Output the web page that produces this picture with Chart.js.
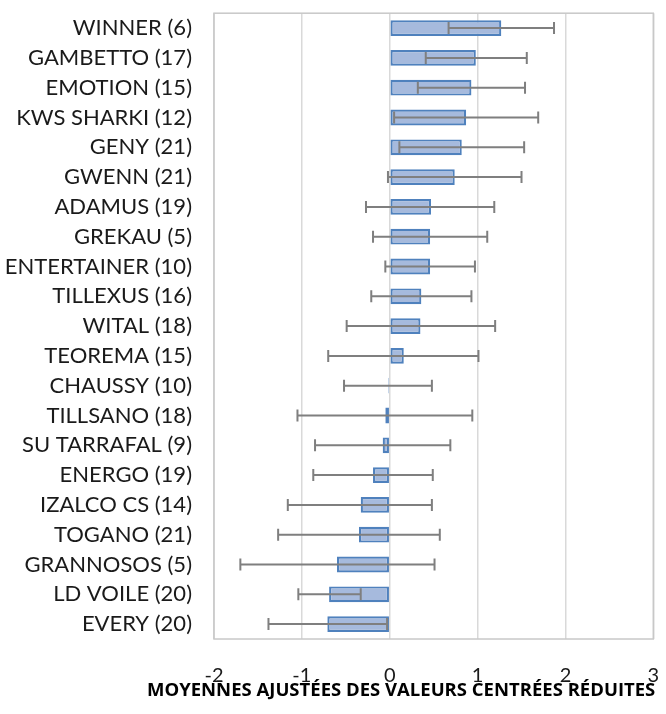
<!DOCTYPE html>
<html lang="fr">
<head>
<meta charset="utf-8">
<title>Moyennes ajustées</title>
<script src="https://cdn.jsdelivr.net/npm/chart.js@4/dist/chart.umd.min.js"></script>
<style>
  html, body { margin: 0; padding: 0; background: #fff; }
  #wrap { position: relative; width: 666px; height: 714px; }
</style>
</head>
<body>
<div id="wrap"><canvas id="meansChart"></canvas></div>
<script>
// ── DATA ──
const varieties = [
    'WINNER (6)', 'GAMBETTO (17)', 'EMOTION (15)', 'KWS SHARKI (12)', 'GENY (21)',
    'GWENN (21)', 'ADAMUS (19)', 'GREKAU (5)', 'ENTERTAINER (10)', 'TILLEXUS (16)',
    'WITAL (18)', 'TEOREMA (15)', 'CHAUSSY (10)', 'TILLSANO (18)', 'SU TARRAFAL (9)',
    'ENERGO (19)', 'IZALCO CS (14)', 'TOGANO (21)', 'GRANNOSOS (5)', 'LD VOILE (20)',
    'EVERY (20)'
];
const means = [
    1.27, 0.98, 0.93, 0.87, 0.82,
    0.74, 0.47, 0.46, 0.46, 0.36,
    0.35, 0.16, -0.015, -0.05, -0.08,
    -0.19, -0.33, -0.35, -0.60, -0.69,
    -0.71
];
// bornes basses / hautes des barres d'erreur
const errLow = [
    0.67, 0.41, 0.32, 0.05, 0.11,
    -0.02, -0.27, -0.19, -0.05, -0.21,
    -0.49, -0.70, -0.52, -1.05, -0.85,
    -0.87, -1.16, -1.27, -1.70, -1.04,
    -1.38
];
const errHigh = [
    1.87, 1.56, 1.54, 1.69, 1.53,
    1.50, 1.19, 1.11, 0.97, 0.93,
    1.20, 1.01, 0.48, 0.94, 0.69,
    0.49, 0.48, 0.57, 0.51, -0.33,
    -0.03
];
const xTicks = [-2, -1, 0, 1, 2, 3];
const axisTitle = 'MOYENNES AJUSTÉES DES VALEURS CENTRÉES RÉDUITES';

// ── PLUGINS ──
// cadre gris autour de la zone de tracé
const frameBox = {
    id: 'frameBox',
    beforeDatasetsDraw(chart) {
        const { ctx, chartArea: a } = chart;
        ctx.save();
        ctx.strokeStyle = '#c8c8c8';
        ctx.lineWidth = 1.5;
        ctx.strokeRect(a.left, a.top, a.right - a.left, a.bottom - a.top);
        ctx.restore();
    }
};

// barres d'erreur (asymétriques) dessinées via les échelles
const errorBars = {
    id: 'errorBars',
    afterDatasetsDraw(chart) {
        const { ctx, scales: { x } } = chart;
        const meta = chart.getDatasetMeta(0);
        ctx.save();
        ctx.strokeStyle = '#7f7f7f';
        ctx.lineWidth = 2;
        meta.data.forEach((bar, i) => {
            const y = bar.y;
            const x1 = x.getPixelForValue(errLow[i]);
            const x2 = x.getPixelForValue(errHigh[i]);
            ctx.beginPath();
            ctx.moveTo(x1, y); ctx.lineTo(x2, y);
            ctx.moveTo(x1, y - 6); ctx.lineTo(x1, y + 6);
            ctx.moveTo(x2, y - 6); ctx.lineTo(x2, y + 6);
            ctx.stroke();
        });
        ctx.restore();
    }
};

// titre de l'axe X : plus large que la zone de tracé, donc dessiné à la main
const xAxisTitle = {
    id: 'xAxisTitle',
    afterDraw(chart) {
        const { ctx, scales: { x } } = chart;
        ctx.save();
        ctx.font = 'bold 18.5px "Open Sans"';
        ctx.fillStyle = '#000';
        ctx.textAlign = 'right';
        ctx.textBaseline = 'middle';
        ctx.fillText(axisTitle, x.right + 2, x.bottom - 23);
        ctx.restore();
    }
};

// ── CHART ──
const ctx = document.getElementById('meansChart');
new Chart(ctx, {
    type: 'bar',
    data: {
        labels: varieties,
        datasets: [{
            data: means,
            backgroundColor: '#a6badd',
            borderColor: '#4f81bd',
            borderWidth: 2.2,
            borderSkipped: false,
            barPercentage: 0.53,
            categoryPercentage: 1
        }]
    },
    options: {
        indexAxis: 'y',
        responsive: true,
        maintainAspectRatio: false,
        animation: false,
        layout: { padding: { top: 12, right: 12.7, left: 0, bottom: 0 } },
        plugins: { legend: { display: false }, tooltip: { enabled: false } },
        scales: {
            x: {
                min: -2,
                max: 3,
                afterBuildTicks: s => { s.ticks = xTicks.map(v => ({ value: v })); },
                afterFit: s => { s.height = 75; },
                grid: { color: '#d9d9d9', lineWidth: 1.5, tickLength: 20, tickColor: 'transparent' },
                border: { display: false },
                ticks: {
                    padding: 5,
                    color: '#1a1a1a',
                    font: { family: 'Lato', size: 20 },
                    maxRotation: 0
                }
            },
            y: {
                afterFit: s => { s.width = 214; },
                grid: { color: 'transparent', tickLength: 22, tickColor: 'transparent' },
                border: { display: false },
                ticks: {
                    padding: 0,
                    color: '#1a1a1a',
                    font: { family: 'Lato', size: 22 }
                }
            }
        }
    },
    plugins: [frameBox, errorBars, xAxisTitle]
});
</script>
</body>
</html>
